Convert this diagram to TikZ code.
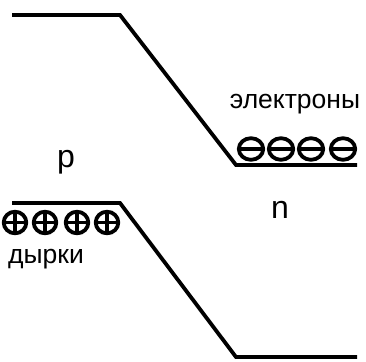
\documentclass[tikz,border=0pt]{standalone}
\usepackage{fontspec}
\setmainfont{Liberation Sans}
\begin{document}
\begin{tikzpicture}[x=1pt,y=-1pt,
  band/.style={line width=3.8pt,line join=miter},
  carrier/.style={line width=3.8pt},
  label/.style={inner sep=0pt,font=\fontsize{26.5}{30}\selectfont},
  side/.style={inner sep=0pt,font=\fontsize{32}{36}\selectfont}]
\useasboundingbox (0,0) rectangle (366,361);
% band edges
\draw[band] (12,15) -- (120,15) -- (236,165) -- (357,165);
\draw[band] (12,203) -- (120,203) -- (236,357) -- (357,357);
% electrons (minus)
\foreach \cx in {251,281,311,343}{
  \draw[carrier] (\cx,149) ellipse [x radius=12.2,y radius=10.8];
  \draw[carrier] (\cx-11,149) -- (\cx+11,149);
}
% holes (plus)
\foreach \cx in {15,45,77,107}{
  \draw[carrier] (\cx,222.5) ellipse [x radius=11.3,y radius=10.8];
  \draw[carrier] (\cx-10,222.5) -- (\cx+10,222.5);
  \draw[carrier] (\cx,212) -- (\cx,233);
}
% labels
\node[label,anchor=base] (el) at (295,108) {электроны};
\node[label,anchor=base west] (ho) at (8,263) {дырки};
\node[side,anchor=base] (pside) at (66,167) {p};
\node[side,anchor=base] (nside) at (280,218) {n};
\end{tikzpicture}
\end{document}
